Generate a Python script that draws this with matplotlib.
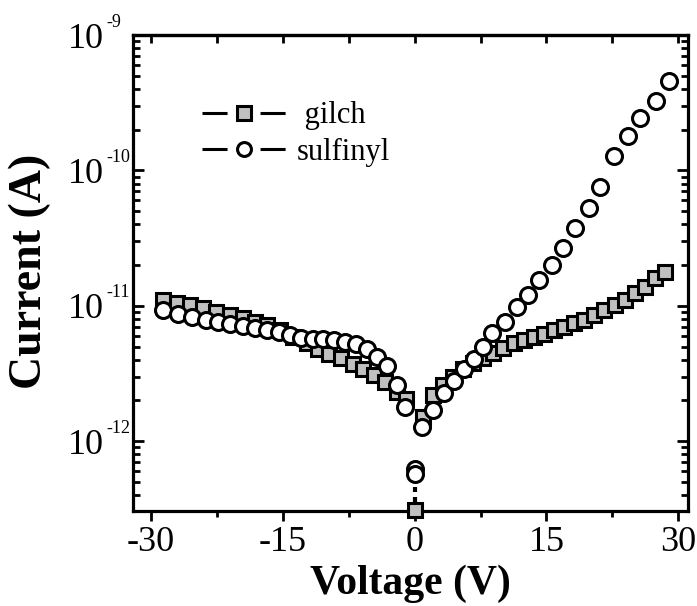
import numpy as np
import matplotlib
matplotlib.use('Agg')
import matplotlib.pyplot as plt
from matplotlib.lines import Line2D
from matplotlib.ticker import FixedLocator, LogLocator, NullFormatter

plt.rcParams['font.family'] = 'Liberation Serif'
plt.rcParams['axes.unicode_minus'] = False

# data (voltage in V, current in A)
gilch_v = [-28.6, -27.1, -25.6, -24.1, -22.6, -21.0, -19.5, -18.2, -16.8, -15.3, -13.8,
           -12.3, -11.0, -9.7, -8.4, -7.0, -5.9, -4.6, -3.4, -2.0, -1.0,
           0.0,
           0.9, 2.05, 3.2, 4.35, 5.5, 6.65, 7.8, 8.95, 10.1, 11.25, 12.4, 13.55,
           14.7, 15.85, 17.0, 18.15, 19.3, 20.45, 21.6, 22.75, 23.9, 25.05, 26.2,
           27.35, 28.5]
gilch_i = [1.10e-11, 1.05e-11, 1.01e-11, 9.6e-12, 9.0e-12, 8.5e-12, 8.1e-12, 7.6e-12,
           7.2e-12, 6.6e-12, 5.9e-12, 5.3e-12, 4.8e-12, 4.4e-12, 4.1e-12, 3.7e-12,
           3.4e-12, 3.07e-12, 2.74e-12, 2.3e-12, 2.06e-12,
           3.1e-13,
           1.5e-12, 2.2e-12, 2.6e-12, 3.0e-12, 3.4e-12, 3.75e-12, 4.1e-12, 4.5e-12,
           4.9e-12, 5.3e-12, 5.6e-12, 5.9e-12, 6.2e-12, 6.6e-12, 7.0e-12, 7.4e-12,
           7.9e-12, 8.5e-12, 9.3e-12, 1.01e-11, 1.11e-11, 1.24e-11, 1.38e-11,
           1.6e-11, 1.79e-11]

sulf_v = [-28.6, -26.9, -25.4, -23.8, -22.4, -21.0, -19.6, -18.2, -16.8, -15.5, -14.2,
          -12.9, -11.6, -10.4, -9.2, -7.9, -6.7, -5.4, -4.3, -3.2, -2.0, -1.1,
          0.0, 0.0,
          0.82, 2.07, 3.28, 4.42, 5.56, 6.7, 7.83, 8.8, 10.3, 11.7, 12.9, 14.1,
          15.6, 16.9, 18.3, 19.8, 21.1, 22.7, 24.3, 25.7, 27.5, 28.9]
sulf_i = [9.3e-12, 8.7e-12, 8.2e-12, 7.9e-12, 7.6e-12, 7.3e-12, 7.1e-12, 6.8e-12,
          6.6e-12, 6.4e-12, 6.1e-12, 5.8e-12, 5.7e-12, 5.7e-12, 5.6e-12, 5.4e-12,
          5.2e-12, 4.8e-12, 4.2e-12, 3.6e-12, 2.6e-12, 1.79e-12,
          6.2e-13, 5.7e-13,
          1.27e-12, 1.69e-12, 2.27e-12, 2.78e-12, 3.43e-12, 4.07e-12, 5.0e-12,
          6.3e-12, 7.6e-12, 9.85e-12, 1.2e-11, 1.55e-11, 2.0e-11, 2.66e-11,
          3.74e-11, 5.26e-11, 7.6e-11, 1.27e-10, 1.79e-10, 2.44e-10, 3.24e-10,
          4.56e-10]

labels = [' gilch', 'sulfinyl']
xticks = [-30, -15, 0, 15, 30]
ydecades = [-12, -11, -10, -9]

fig = plt.figure(figsize=(6.97, 6.06), dpi=100)
ax = fig.add_axes([0.191, 0.157, 0.796, 0.785])

# little dotted drop at 0 V
ax.plot([0, 0], [5.4e-13, 3.3e-13], color='k', lw=3, ls=(0, (1.2, 1.2)), zorder=2)

ax.plot(gilch_v, gilch_i, ls='none', marker='s', ms=10.5, mfc='#c0c0c0', mec='k',
        mew=2.2, zorder=3, clip_on=False)
ax.plot(sulf_v, sulf_i, ls='none', marker='o', ms=11.5, mfc='white', mec='k',
        mew=2.2, zorder=4)

ax.set_yscale('log')
ax.set_xlim(-32.05, 31.1)
ax.set_ylim(3.05e-13, 1e-9)

ax.xaxis.set_major_locator(FixedLocator(xticks))
ax.xaxis.set_minor_locator(FixedLocator([-22.5, -7.5, 7.5, 22.5]))
ax.yaxis.set_major_locator(FixedLocator([10.0 ** d for d in ydecades]))
ax.yaxis.set_minor_locator(LogLocator(base=10, subs=np.arange(2, 10), numticks=20))
ax.yaxis.set_minor_formatter(NullFormatter())
ax.set_yticklabels(['10'] * len(ydecades))

# small exponents next to each "10"
for d in ydecades:
    ax.annotate('%d' % d, xy=(0, 10.0 ** d), xycoords=('axes fraction', 'data'),
                xytext=(-27, 13), textcoords='offset pixels', ha='left',
                va='center', fontsize=13, annotation_clip=False)

for s in ax.spines.values():
    s.set_linewidth(2.3)

ax.tick_params(axis='x', which='both', direction='out', top=False, width=2,
               labelsize=26, pad=4)
ax.tick_params(axis='x', which='major', length=7)
ax.tick_params(axis='x', which='minor', length=4)
ax.tick_params(axis='y', which='both', direction='in', right=True, width=2,
               labelsize=26, pad=21)
ax.tick_params(axis='y', which='major', length=8)
ax.tick_params(axis='y', which='minor', length=5)

# top axis: inward ticks every 7.5 V
top = ax.secondary_xaxis('top')
top.set_xticks([-30, -22.5, -15, -7.5, 0, 7.5, 15, 22.5, 30])
top.tick_params(direction='in', length=6, width=2, labeltop=False)
top.spines['top'].set_linewidth(2.3)

ax.set_xlabel('Voltage (V)', fontsize=30, fontweight='bold', labelpad=4)
ax.set_ylabel('Current (A)', fontsize=33, fontweight='bold')
ax.yaxis.set_label_coords(-0.148, 0.504)

handles = [
    Line2D([], [], color='k', lw=2.2, ls=(0, (8.2, 10.8)), marker='s', ms=10,
           mfc='#c0c0c0', mec='k', mew=2.2),
    Line2D([], [], color='k', lw=2.2, ls=(0, (8.2, 10.8)), marker='o', ms=10,
           mfc='white', mec='k', mew=2.2),
]
ax.legend(handles, labels, loc='upper left', bbox_to_anchor=(0.124, 0.861),
          frameon=False, fontsize=22, handlelength=2.75, handletextpad=0.35,
          labelspacing=0.25, borderaxespad=0, borderpad=0)

fig.savefig('out.png', dpi=100)
